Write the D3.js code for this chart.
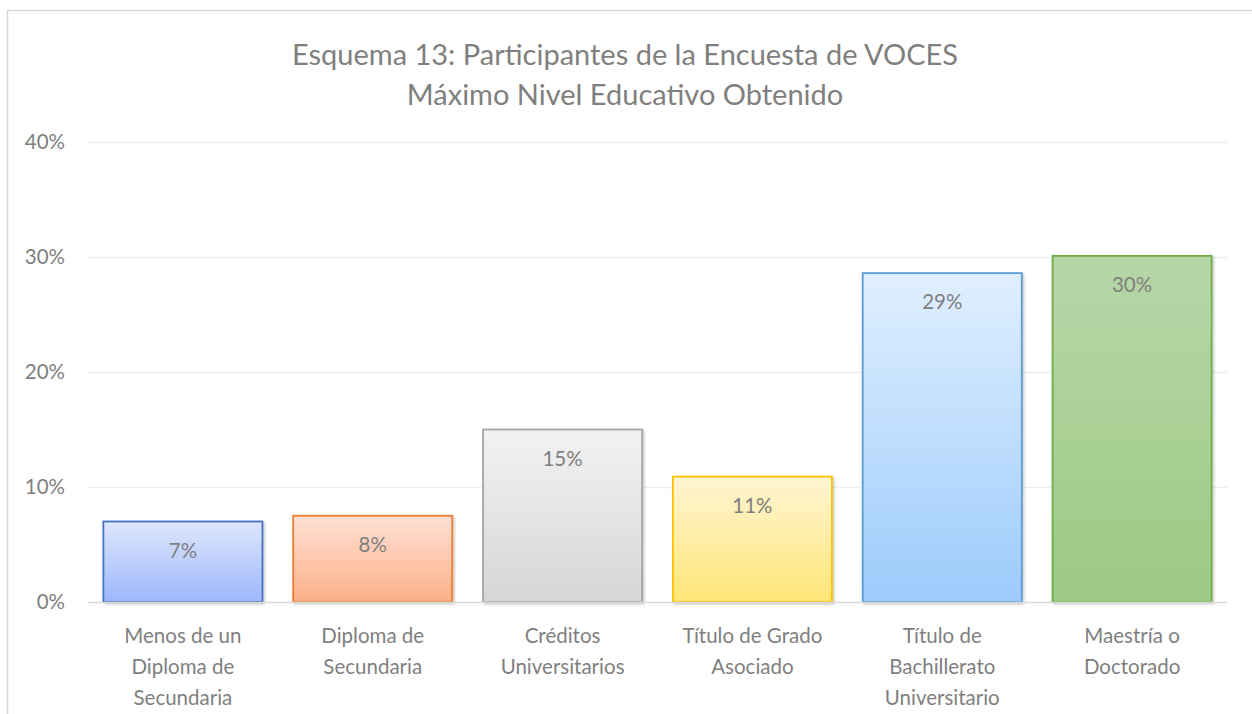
<!DOCTYPE html>
<html>
<head>
<meta charset="utf-8">
<script src="https://cdn.jsdelivr.net/npm/d3@7"></script>
<style>
  html, body { margin: 0; padding: 0; background: #fff; }
  svg text { font-family: Lato, "Open Sans", sans-serif; fill: #7f7f7f; }
</style>
</head>
<body>
<div id="graph"></div>
<script>
const graphWidth = 1252;
const graphHeight = 714;

const titleLines = ['Esquema 13: Participantes de la Encuesta de VOCES', 'Máximo Nivel Educativo Obtenido'];

const categories = [
  ['Menos de un', 'Diploma de', 'Secundaria'],
  ['Diploma de', 'Secundaria'],
  ['Créditos', 'Universitarios'],
  ['Título de Grado', 'Asociado'],
  ['Título de', 'Bachillerato', 'Universitario'],
  ['Maestría o', 'Doctorado']
];
const values = [0.070, 0.075, 0.150, 0.109, 0.286, 0.301];
const valueLabels = ['7%', '8%', '15%', '11%', '29%', '30%'];
const yTicks = [0, 0.1, 0.2, 0.3, 0.4];

const strokeColors = ['#4472c4', '#ed7d31', '#a5a5a5', '#ffc000', '#5b9bd5', '#70ad47'];
const topColors = ['#dde6fd', '#fee2d6', '#f2f2f2', '#fff5d2', '#e0efff', '#b7d6a8'];
const bottomColors = ['#9db8fa', '#fcae86', '#d6d6d6', '#ffe675', '#9ccbfb', '#9cc984'];

const plotLeft = 88;
const plotRight = 1227;
const plotTop = 142;
const plotBottom = 602;

const labelSize = 20.5;
const titleSize = 29;

function makeGraph() {
  const svg = d3.select('#graph').append('svg')
    .attr('width', graphWidth)
    .attr('height', graphHeight);

  const defs = svg.append('defs');
  values.forEach((v, i) => {
    const g = defs.append('linearGradient')
      .attr('id', 'grad' + i)
      .attr('x1', 0).attr('x2', 0).attr('y1', 0).attr('y2', 1);
    g.append('stop').attr('offset', '0%').attr('stop-color', topColors[i]);
    g.append('stop').attr('offset', '100%').attr('stop-color', bottomColors[i]);
  });
  const shadow = defs.append('filter').attr('id', 'shadow')
    .attr('x', '-5%').attr('y', '-5%').attr('width', '115%').attr('height', '115%');
  shadow.append('feDropShadow')
    .attr('dx', 1.5).attr('dy', 1.5).attr('stdDeviation', 1.2)
    .attr('flood-color', '#000').attr('flood-opacity', 0.22);

  // chart frame (runs off the right and bottom edges)
  svg.append('rect')
    .attr('x', 7.5).attr('y', 10.5)
    .attr('width', graphWidth + 20).attr('height', graphHeight + 20)
    .attr('fill', 'none')
    .attr('stroke', '#d9d9d9')
    .attr('stroke-width', 1.5);

  const x = d3.scaleBand()
    .domain(d3.range(values.length))
    .range([plotLeft, plotRight])
    .paddingInner(0.162)
    .paddingOuter(0.081);

  const y = d3.scaleLinear()
    .domain([0, 0.4])
    .range([plotBottom, plotTop]);

  // gridlines
  svg.append('g').selectAll('line')
    .data(yTicks.filter(d => d > 0))
    .join('line')
    .attr('x1', plotLeft).attr('x2', plotRight)
    .attr('y1', d => Math.round(y(d)) + 0.5)
    .attr('y2', d => Math.round(y(d)) + 0.5)
    .attr('stroke', '#eeeeee')
    .attr('stroke-width', 1.5);

  // y tick labels
  svg.append('g').selectAll('text')
    .data(yTicks)
    .join('text')
    .attr('x', 65)
    .attr('y', d => y(d))
    .attr('dy', '0.36em')
    .attr('text-anchor', 'end')
    .attr('font-size', labelSize)
    .text(d3.format('.0%'));

  // bars
  svg.append('g').selectAll('rect')
    .data(values)
    .join('rect')
    .attr('x', (d, i) => x(i))
    .attr('y', d => y(d))
    .attr('width', x.bandwidth())
    .attr('height', d => y(0) - y(d))
    .attr('fill', (d, i) => 'url(#grad' + i + ')')
    .attr('stroke', (d, i) => strokeColors[i])
    .attr('stroke-width', 1.8)
    .attr('filter', 'url(#shadow)');

  // baseline
  svg.append('line')
    .attr('x1', plotLeft).attr('x2', plotRight)
    .attr('y1', y(0) + 0.5).attr('y2', y(0) + 0.5)
    .attr('stroke', '#d9d9d9')
    .attr('stroke-width', 1.5);

  // data labels
  svg.append('g').selectAll('text')
    .data(values)
    .join('text')
    .attr('x', (d, i) => x(i) + x.bandwidth() / 2)
    .attr('y', d => y(d) + 29)
    .attr('dy', '0.36em')
    .attr('text-anchor', 'middle')
    .attr('font-size', labelSize)
    .text((d, i) => valueLabels[i]);

  // category labels
  const cat = svg.append('g').selectAll('text')
    .data(categories)
    .join('text')
    .attr('text-anchor', 'middle')
    .attr('font-size', labelSize);
  cat.selectAll('tspan')
    .data((d, i) => d.map(line => ({ line, i })))
    .join('tspan')
    .attr('x', d => x(d.i) + x.bandwidth() / 2)
    .attr('y', (d, j) => 636 + j * 31)
    .attr('dy', '0.36em')
    .text(d => d.line);

  // title
  svg.append('g').selectAll('text')
    .data(titleLines)
    .join('text')
    .attr('x', 625)
    .attr('y', (d, i) => 55 + i * 40)
    .attr('dy', '0.36em')
    .attr('text-anchor', 'middle')
    .attr('font-size', titleSize)
    .text(d => d);
}

makeGraph();
</script>
</body>
</html>
